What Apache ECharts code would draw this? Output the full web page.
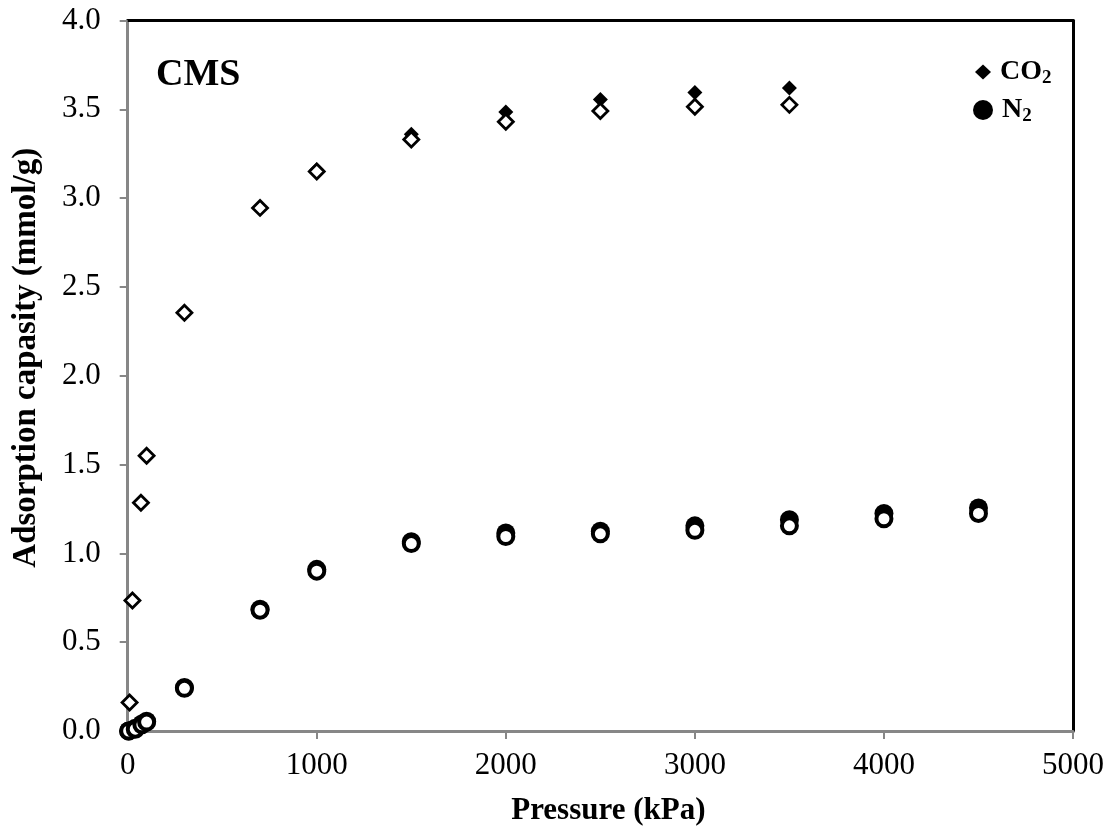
<!DOCTYPE html>
<html>
<head>
<meta charset="utf-8">
<script src="https://cdn.jsdelivr.net/npm/echarts@6/dist/echarts.min.js"></script>
<style>html,body{margin:0;padding:0;background:#fff;}#c{width:1112px;height:834px;}</style>
</head>
<body>
<div id="c"></div>
<script>
// Data (pressure kPa, adsorption capacity mmol/g)
const co2Filled = [[10,0.16],[25,0.735],[70,1.285],[100,1.55],[300,2.355],[700,2.945],[1000,3.16],[1500,3.36],[2000,3.485],[2500,3.555],[3000,3.595],[3500,3.62]];
const co2Open   = [[10,0.16],[25,0.735],[70,1.285],[100,1.55],[300,2.355],[700,2.945],[1000,3.15],[1500,3.33],[2000,3.43],[2500,3.49],[3000,3.515],[3500,3.525]];
const n2Filled  = [[5,0.0],[40,0.015],[75,0.04],[100,0.055],[300,0.245],[700,0.685],[1000,0.91],[1500,1.065],[2000,1.115],[2500,1.125],[3000,1.155],[3500,1.19],[4000,1.225],[4500,1.255]];
const n2Open    = [[5,0.0],[40,0.01],[75,0.035],[100,0.05],[300,0.24],[700,0.68],[1000,0.9],[1500,1.055],[2000,1.095],[2500,1.11],[3000,1.13],[3500,1.155],[4000,1.195],[4500,1.225]];
const xTicks = [0,1000,2000,3000,4000,5000];
const yTicks = [0,0.5,1,1.5,2,2.5,3,3.5,4];

const FONT = '"Liberation Serif","Times New Roman",serif';
const legendRich = {
  b: {fontFamily: FONT, fontWeight: 'bold', fontSize: 28, color: '#000', padding: [0, 0, 0, 4]},
  s: {fontFamily: FONT, fontWeight: 'bold', fontSize: 19, color: '#000', padding: [12, 0, 0, 0]}
};
const chart = echarts.init(document.getElementById('c'));
chart.setOption({
  animation: false,
  backgroundColor: '#fff',
  grid: {left: 127.7, right: 39, top: 20.5, bottom: 103, containLabel: false},
  title: {text: 'CMS', left: 151, top: 51, textStyle: {fontFamily: FONT, fontWeight: 'bold', fontSize: 38, color: '#000'}},
  legend: [{
    left: 970, top: 53, itemWidth: 16, itemHeight: 15,
    data: [{name: 'CO2', icon: 'diamond'}],
    formatter: () => '{b|CO}{s|2}',
    textStyle: {rich: legendRich}
  }, {
    left: 968, top: 91, itemWidth: 20, itemHeight: 20,
    data: [{name: 'N2', icon: 'circle'}],
    formatter: () => '{b|N}{s|2}',
    textStyle: {rich: legendRich}
  }],
  xAxis: [{
    type: 'value', min: 0, max: 5000, interval: 1000,
    name: 'Pressure (kPa)', nameLocation: 'middle', nameGap: 64,
    nameTextStyle: {fontFamily: FONT, fontWeight: 'bold', fontSize: 31, color: '#000', padding: [0, 0, 0, 16]},
    axisLine: {lineStyle: {color: '#878787', width: 3}},
    axisTick: {inside: false, length: 8, lineStyle: {color: '#878787', width: 2}},
    axisLabel: {margin: 19, fontFamily: FONT, fontSize: 31, color: '#000', formatter: v => xTicks.includes(v) ? String(v) : ''},
    splitLine: {show: false}
  }, {
    type: 'value', position: 'top', min: 0, max: 5000,
    axisLine: {show: true, onZero: false, lineStyle: {color: '#000', width: 3}},
    axisTick: {show: false}, axisLabel: {show: false}, splitLine: {show: false}
  }],
  yAxis: [{
    type: 'value', min: 0, max: 4, interval: 0.5,
    name: 'Adsorption capasity (mmol/g)', nameLocation: 'middle', nameGap: 85,
    nameTextStyle: {fontFamily: FONT, fontWeight: 'bold', fontSize: 33, color: '#000', padding: [0, 0, 0, 36]},
    axisLine: {show: true, lineStyle: {color: '#878787', width: 3}},
    axisTick: {show: true, inside: false, length: 8, lineStyle: {color: '#878787', width: 2}},
    axisLabel: {margin: 27, fontFamily: FONT, fontSize: 31, color: '#000', formatter: v => yTicks.includes(v) ? v.toFixed(1) : ''},
    splitLine: {show: false}
  }, {
    type: 'value', position: 'right', min: 0, max: 4,
    axisLine: {show: true, onZero: false, lineStyle: {color: '#000', width: 3}},
    axisTick: {show: false}, axisLabel: {show: false}, splitLine: {show: false}
  }],
  series: [
    {name: 'CO2', type: 'scatter', data: co2Filled, symbol: 'diamond', symbolSize: 15, itemStyle: {color: '#000', opacity: 1}, z: 2},
    {name: 'N2', type: 'scatter', data: n2Filled, symbol: 'circle', symbolSize: 19, itemStyle: {color: '#000', opacity: 1}, z: 2},
    {name: 'CO2 open', type: 'scatter', data: co2Open, symbol: 'diamond', symbolSize: 15, itemStyle: {color: '#fff', borderColor: '#000', borderWidth: 2.8, opacity: 1}, z: 3},
    {name: 'N2 open', type: 'scatter', data: n2Open, symbol: 'circle', symbolSize: 15, itemStyle: {color: '#fff', borderColor: '#000', borderWidth: 4, opacity: 1}, z: 3}
  ]
});
</script>
</body>
</html>
